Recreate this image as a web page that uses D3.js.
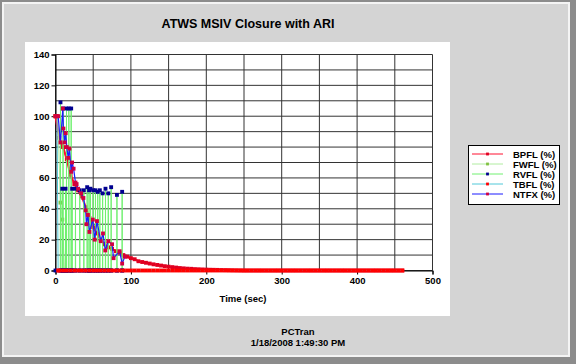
<!DOCTYPE html>
<html>
<head>
<meta charset="utf-8">
<script src="https://cdn.jsdelivr.net/npm/d3@7"></script>
<style>
  html, body { margin: 0; padding: 0; background: #d4d4d4; }
  svg { display: block; font-family: "Liberation Sans", Arial, sans-serif; font-weight: bold; }
</style>
</head>
<body>
<svg id="chart" width="576" height="364"></svg>
<script>
// time grid (sec) shared by the long series
const timeGrid = [0,5,10,15,20,25,30,35,40,45,50,55,60,65,70,75,80,85,90,95,100,105,110,115,120,125,130,135,140,145,150,155,160,165,170,175,180,185,190,195,200,205,210,215,220,225,230,235,240,245,250,255,260,265,270,275,280,285,290,295,300,305,310,315,320,325,330,335,340,345,350,355,360,365,370,375,380,385,390,395,400,405,410,415,420,425,430,435,440,445,450,455,460]

const bpflValues = [100,86,80,72,62,56,52,48,41,34,28,24,20,17,15,14,12.5,11.5,10,9,8,7.3,6,5.5,5,4.5,4,3.6,3.2,2.8,2.5,2.2,1.9,1.6,1.4,1.2,1.1,0.9,0.8,0.7,0.6,0.5,0.45,0.4,0.3,0.25,0.2,0.15,0.1,0.05,0,0,0,0,0,0,0,0,0,0,0,0,0,0,0,0,0,0,0,0,0,0,0,0,0,0,0,0,0,0,0,0,0,0,0,0,0,0,0,0,0,0,0]

const tbflTime = [0,2,3.5].concat(timeGrid.slice(1))
const tbflValues = [100,100,0].concat(timeGrid.slice(1).map(() => 0))

const fwflTime = [0,3,6.6,9,12,15]
const fwflValues = [100,100,44,33,0,0]

// relief valve cycling: each lift is a near-vertical spike
const rvflTime = [0,6.3,6.6,6.9,8.8,9,9.2,9.8,10,10.2,13.1,13.3,13.5,14.4,14.6,14.8,17.5,17.7,17.9,20.6,20.8,21,21.9,22.1,22.3,26.3,26.5,26.7,32,32.2,32.4,37.4,37.6,37.8,41.8,42,42.2,44.3,44.5,44.7,46.2,46.4,46.6,49.8,50,50.2,52.8,53,53.2,55.8,56,56.2,58.6,58.8,59,62.3,62.5,62.7,66.1,66.3,66.5,69.8,70,70.2,73.6,73.8,74,81.3,81.5,81.7,88.2,88.4,88.6]
const rvflValues = [0,0,109,0,0,53,0,0,105,0,0,53,0,0,105,0,0,105,0,0,105,0,0,53,0,0,53,0,0,52,0,0,52,0,0,54,0,0,52,0,0,53,0,0,52,0,0,52,0,0,51,0,0,52,0,0,50,0,0,53,0,0,50,0,0,54,0,0,49,0,0,51,0]

const ntfxTime = [0,3.5,6.6,9.7,10.5,12,13.5,15,16.8,18.5,20.8,22,24,26.5,28,30,34,37,40,41,43,45,49.5,52,55,60,63,66,70,75,77,85,88.4,92]
const ntfxValues = [100,100,83,105,92,83,89,80,73,79,64,70,66,57,56,53,50,47,39,30,36,25,33,20,32,19,24,13,19,17,8,12.5,4.5,9]

const seriesNames = ['BPFL (%)', 'FWFL (%)', 'RVFL (%)', 'TBFL (%)', 'NTFX (%)']
const lineColors = ['#ff1030', '#b0eca0', '#70f070', '#50c8d8', '#1a1aff']
const markColors = ['#e00020', '#80c040', '#000090', '#ff0000', '#d00040']

const xTicks = [0,100,200,300,400,500]
const yTicks = [0,20,40,60,80,100,120,140]

const series = [
  {t: timeGrid, v: bpflValues, w: 2.2},
  {t: fwflTime, v: fwflValues, w: 1},
  {t: rvflTime, v: rvflValues, w: 1},
  {t: tbflTime, v: tbflValues, w: 1},
  {t: ntfxTime, v: ntfxValues, w: 1.2}
]

const svg = d3.select('#chart')

// window frame
svg.append('rect').attr('x', 0).attr('y', 0).attr('width', 576).attr('height', 364).attr('fill', '#8c8c8c')
svg.append('rect').attr('x', 2).attr('y', 2).attr('width', 568).attr('height', 355).attr('fill', '#f4f4f4')
svg.append('rect').attr('x', 4).attr('y', 4).attr('width', 564).attr('height', 351).attr('fill', '#d4d4d4')

// white chart panel
svg.append('rect').attr('x', 25).attr('y', 42).attr('width', 425).attr('height', 274).attr('fill', '#fff')

const x = d3.scaleLinear().domain([0, 500]).range([55.5, 432.5])
const y = d3.scaleLinear().domain([0, 140]).range([270.5, 54.5])

// grid
svg.append('g')
  .selectAll('line')
  .data(d3.range(0, 141, 10))
  .join('line')
  .attr('x1', x(0)).attr('x2', x(500))
  .attr('y1', d => y(d)).attr('y2', d => y(d))
  .attr('stroke', '#333').attr('stroke-width', 1)
svg.append('g')
  .selectAll('line')
  .data(d3.range(0, 501, 50))
  .join('line')
  .attr('x1', d => x(d)).attr('x2', d => x(d))
  .attr('y1', y(0)).attr('y2', y(140))
  .attr('stroke', '#333').attr('stroke-width', 1)

const xAxis = svg.append('g').attr('transform', `translate(0,${y(0)})`)
  .call(d3.axisBottom(x).tickValues(xTicks).tickSize(4).tickPadding(3))
const yAxis = svg.append('g').attr('transform', `translate(${x(0)},0)`)
  .call(d3.axisLeft(y).tickValues(yTicks).tickSize(4).tickPadding(2))
for (const ax of [xAxis, yAxis]) {
  ax.select('.domain').attr('stroke', '#000')
  ax.selectAll('line').attr('stroke', '#000')
  ax.selectAll('text').attr('font-size', 9.5).attr('font-weight', 'bold').attr('fill', '#000')
    .attr('font-family', '"Liberation Sans", Arial, sans-serif')
}

// series
const line = d3.line().x(d => x(d[0])).y(d => y(d[1]))
const marker = d3.symbol(d3.symbolSquare, 15)
series.forEach((s, i) => {
  const pts = s.t.map((t, j) => [t, s.v[j]])
  const g = svg.append('g')
  g.append('path').attr('d', line(pts)).attr('fill', 'none')
    .attr('stroke', lineColors[i]).attr('stroke-width', s.w)
  g.selectAll('path.m').data(pts).join('path').attr('class', 'm')
    .attr('d', marker)
    .attr('transform', d => `translate(${x(d[0])},${y(d[1])})`)
    .attr('fill', markColors[i])
})

// title & labels
svg.append('text').attr('x', 248).attr('y', 28).attr('text-anchor', 'middle')
  .attr('font-size', 12.5).text('ATWS MSIV Closure with ARI')
svg.append('text').attr('x', 243).attr('y', 302).attr('text-anchor', 'middle')
  .attr('font-size', 9.5).text('Time (sec)')
svg.append('text').attr('x', 298).attr('y', 335).attr('text-anchor', 'middle')
  .attr('font-size', 9.5).text('PCTran')
svg.append('text').attr('x', 298).attr('y', 346).attr('text-anchor', 'middle')
  .attr('font-size', 9.5).text('1/18/2008 1:49:30 PM')

// legend
const lg = svg.append('g').attr('transform', 'translate(468,145)')
lg.append('rect').attr('x', 0.5).attr('y', 0.5).attr('width', 91).attr('height', 59)
  .attr('fill', '#fff').attr('stroke', '#000')
seriesNames.forEach((name, i) => {
  const yy = 9 + i * 10
  lg.append('line').attr('x1', 4).attr('x2', 35).attr('y1', yy).attr('y2', yy)
    .attr('stroke', lineColors[i])
  lg.append('path').attr('d', d3.symbol(d3.symbolSquare, 8)())
    .attr('transform', `translate(19.5,${yy})`).attr('fill', markColors[i])
  lg.append('text').attr('x', 45).attr('y', yy + 3.5).attr('font-size', 9.5).text(name)
})
</script>
</body>
</html>
